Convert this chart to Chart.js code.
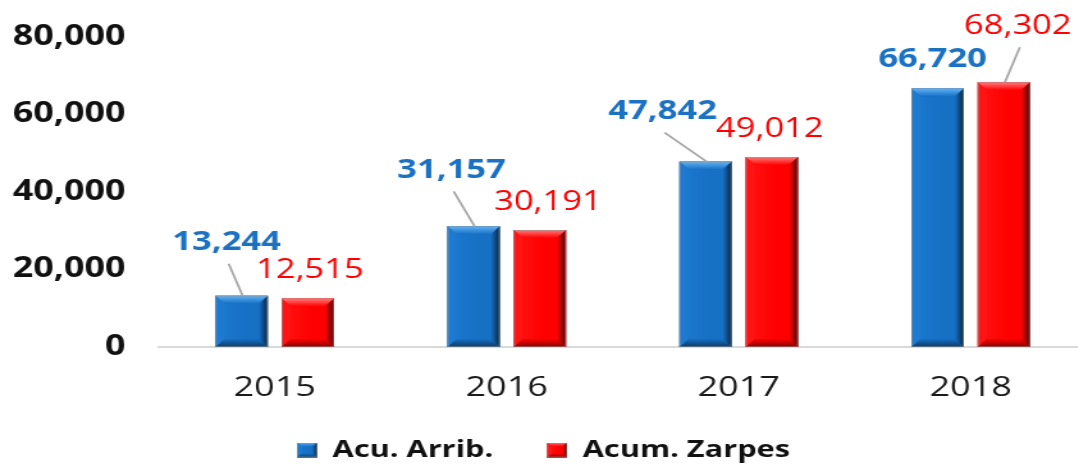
<!DOCTYPE html>
<html>
<head>
<meta charset="utf-8">
<title>Arribos y Zarpes acumulados</title>
<script src="https://cdn.jsdelivr.net/npm/chart.js@4.4.1/dist/chart.umd.min.js"></script>
<style>
  html, body { margin: 0; padding: 0; background: #fff; overflow: hidden; }
  /* the chart is drawn narrow and stretched sideways, like the wide lettering of the original */
  #wrap { width: 860px; height: 466px; transform: scaleX(1.28); transform-origin: 0 0; }
</style>
</head>
<body>
<div id="wrap"><canvas id="chart" width="860" height="466"></canvas></div>
<script>
const years = ['2015', '2016', '2017', '2018'];
const arribos = [13244, 31157, 47842, 66720];
const zarpes = [12515, 30191, 49012, 68302];
const yTicks = [0, 20000, 40000, 60000, 80000];

const FONT = "'Open Sans', sans-serif";

const blue = { face: '#1670c4', light: '#62b4f8', left: '#1d7ad0', dark: '#08233f', bottom: '#0c3a66', text: '#1b72c2' };
const red = { face: '#ff0000', light: '#ff7a7a', left: '#ff1414', dark: '#4a0000', bottom: '#850000', text: '#ff0000' };

// label offset from the top centre of each bar, and whether a leader line is drawn
const labelPlace = [
  [{ dx: -11.7, dy: -55, lead: true }, { dx: -17.2, dy: -58, lead: true }, { dx: -33.6, dy: -52, lead: true }, { dx: -3.9, dy: -31, lead: false }],
  [{ dx: 1.6, dy: -30, lead: false }, { dx: 6.3, dy: -30, lead: false }, { dx: -1.6, dy: -30, lead: false }, { dx: 10.9, dy: -58, lead: true }],
];

function poly(ctx, pts, fill) {
  ctx.beginPath();
  ctx.moveTo(pts[0][0], pts[0][1]);
  for (let i = 1; i < pts.length; i++) ctx.lineTo(pts[i][0], pts[i][1]);
  ctx.closePath();
  ctx.fillStyle = fill;
  ctx.fill();
}

function drawBevel(ctx, l, t, r, b, c, bw, bh) {
  bw = Math.min(bw, (r - l) / 4);
  bh = Math.min(bh, (b - t) / 3);

  const face = ctx.createLinearGradient(l, 0, r, 0);
  face.addColorStop(0, c.left);
  face.addColorStop(0.6, c.face);
  face.addColorStop(1, c.face);
  ctx.fillStyle = face;
  ctx.fillRect(l, t, r - l, b - t);

  let g = ctx.createLinearGradient(0, t, 0, t + bh);
  g.addColorStop(0, c.light);
  g.addColorStop(1, c.face);
  poly(ctx, [[l, t], [r, t], [r - bw, t + bh], [l + bw, t + bh]], g);

  poly(ctx, [[l, t], [l + bw, t + bh], [l + bw, b - bh], [l, b]], c.left);

  g = ctx.createLinearGradient(r - bw, 0, r, 0);
  g.addColorStop(0, c.face);
  g.addColorStop(1, c.dark);
  poly(ctx, [[r, t], [r, b], [r - bw, b - bh], [r - bw, t + bh]], g);

  g = ctx.createLinearGradient(0, b - bh, 0, b);
  g.addColorStop(0, c.face);
  g.addColorStop(1, c.bottom);
  poly(ctx, [[l, b], [r, b], [r - bw, b - bh], [l + bw, b - bh]], g);

  ctx.strokeStyle = 'rgba(150,150,150,0.55)';
  ctx.lineWidth = 1;
  ctx.strokeRect(l + 0.5, t + 0.5, r - l - 1, b - t - 1);
}

function legendIcon(c) {
  const cv = document.createElement('canvas');
  cv.width = 16;
  cv.height = 15;
  drawBevel(cv.getContext('2d'), 0, 0, 16, 15, c, 4, 4);
  return cv;
}

const bevelBars = {
  id: 'bevelBars',
  afterDatasetDraw(chart, args) {
    const ctx = chart.ctx;
    const shades = args.index === 0 ? blue : red;
    ctx.save();
    args.meta.data.forEach(bar => {
      const { x, y, base, width } = bar.getProps(['x', 'y', 'base', 'width'], true);
      drawBevel(ctx, x - width / 2, y, x + width / 2, base, shades, 7, 8);
    });
    ctx.restore();
  },
};

const valueLabels = {
  id: 'valueLabels',
  afterDatasetsDraw(chart) {
    const ctx = chart.ctx;
    ctx.save();
    chart.data.datasets.forEach((ds, di) => {
      const meta = chart.getDatasetMeta(di);
      const c = di === 0 ? blue : red;
      meta.data.forEach((bar, i) => {
        const p = labelPlace[di][i];
        const cx = bar.x + p.dx;
        const cy = bar.y + p.dy;
        if (p.lead) {
          ctx.strokeStyle = '#a6a6a6';
          ctx.lineWidth = 1.8;
          ctx.beginPath();
          ctx.moveTo(cx + 1.6, cy + 23);
          ctx.lineTo(bar.x + 0.8, bar.y);
          ctx.stroke();
        }
        ctx.font = (di === 0 ? 'bold ' : '') + '27px ' + FONT;
        ctx.fillStyle = c.text;
        ctx.textAlign = 'center';
        ctx.textBaseline = 'alphabetic';
        ctx.fillText(ds.data[i].toLocaleString('en-US'), cx, cy + 27 * 0.357);
      });
    });
    ctx.restore();
  },
};

const icons = [legendIcon(blue), legendIcon(red)];

new Chart(document.getElementById('chart'), {
  type: 'bar',
  data: {
    labels: years,
    datasets: [
      { label: 'Acu. Arrib.', data: arribos, backgroundColor: blue.face },
      { label: 'Acum. Zarpes', data: zarpes, backgroundColor: red.face },
    ],
  },
  options: {
    responsive: false,
    animation: false,
    events: [],
    // legend padding also spaces the two items apart, so it hangs a little past the bottom edge
    layout: { padding: { top: 37, right: 11, bottom: -6, left: 0 } },
    datasets: { bar: { categoryPercentage: 0.571, barPercentage: 0.79, borderWidth: 0 } },
    scales: {
      x: {
        afterFit(axis) { axis.height = 49; },
        grid: { display: false },
        border: { display: true, color: '#d9d9d9', width: 2 },
        ticks: { font: { family: FONT, size: 28 }, color: '#1a1a1a', padding: 16 },
      },
      y: {
        min: 0,
        max: 80000,
        afterBuildTicks(axis) { axis.ticks = yTicks.map(v => ({ value: v })); },
        afterFit(axis) { axis.width = 124; },
        grid: { display: false },
        border: { display: false },
        ticks: {
          font: { family: FONT, size: 28, weight: 'bold' },
          color: '#111',
          padding: 18,
          callback: v => v.toLocaleString('en-US'),
        },
      },
    },
    plugins: {
      tooltip: { enabled: false },
      legend: {
        position: 'bottom',
        labels: {
          usePointStyle: true,
          boxWidth: 16,
          boxHeight: 15,
          padding: 42,
          color: '#111',
          font: { family: FONT, size: 24, weight: 'bold' },
          generateLabels(chart) {
            return Chart.defaults.plugins.legend.labels.generateLabels(chart)
              .map((item, i) => ({ ...item, pointStyle: icons[i] }));
          },
        },
      },
    },
  },
  plugins: [bevelBars, valueLabels],
});
</script>
</body>
</html>
